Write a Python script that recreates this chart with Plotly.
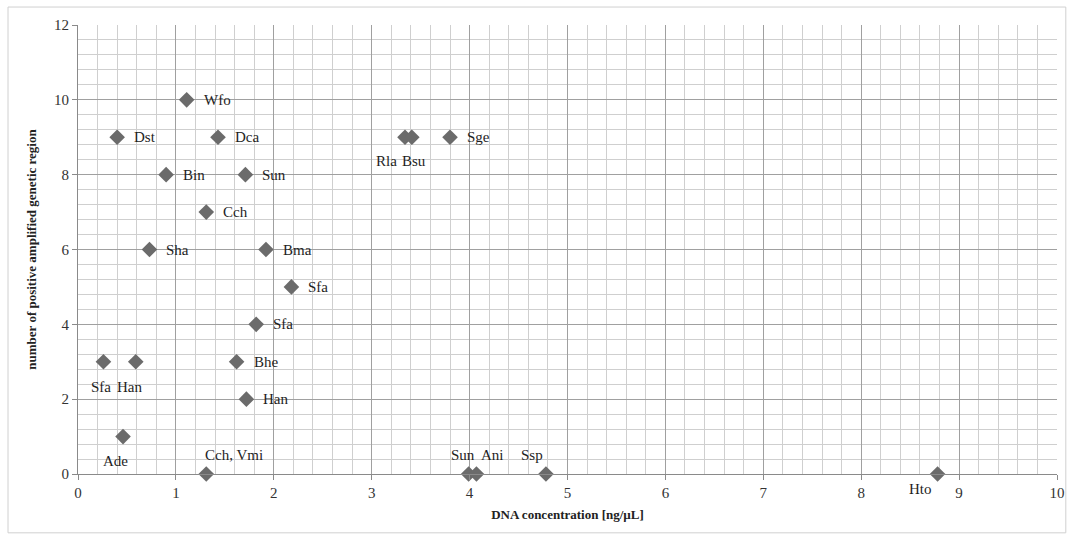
import plotly.graph_objects as go

# data
species = ["Wfo", "Dst", "Dca", "Bin", "Sun", "Cch", "Sha", "Bma", "Sfa", "Sfa",
           "Bhe", "Sfa", "Han", "Han", "Ade", "Cch, Vmi", "Rla", "Bsu", "Sge",
           "Sun", "Ani", "Ssp", "Hto"]
dna_conc = [1.11, 0.40, 1.43, 0.90, 1.71, 1.31, 0.73, 1.92, 2.18, 1.82,
            1.62, 0.26, 0.59, 1.72, 0.46, 1.31, 3.34, 3.41, 3.80,
            3.99, 4.07, 4.78, 8.78]
n_regions = [10, 9, 9, 8, 8, 7, 6, 6, 5, 4,
             3, 3, 3, 2, 1, 0, 9, 9, 9,
             0, 0, 0, 0]

# label placement (style): (xshift, yshift, xanchor)
placement = {
    "Sfa_11": (-2, -25, "center"), "Han_12": (-6, -25, "center"),
    "Ade": (-8, -24, "center"), "Cch, Vmi": (28, 19, "center"),
    "Rla": (-18, -24, "center"), "Bsu": (2, -24, "center"),
    "Sun_19": (-6, 19, "center"), "Ani": (16, 19, "center"),
    "Ssp": (-14, 19, "center"), "Hto": (-17, -15, "center"),
}

serif = "Liberation Serif, Times New Roman, serif"

fig = go.Figure()
fig.add_trace(go.Scatter(
    x=dna_conc, y=n_regions, mode="markers",
    marker=dict(symbol="diamond", size=12, color="#6b6b6b"),
    hoverinfo="skip", showlegend=False, cliponaxis=False,
))

annotations = []
for i, (name, xv, yv) in enumerate(zip(species, dna_conc, n_regions)):
    key = f"{name}_{i}" if f"{name}_{i}" in placement else name
    if key in placement:
        xs, ys, xa = placement[key]
    else:
        xs, ys, xa = 15, 0, "left"
    annotations.append(dict(
        x=xv, y=yv, xref="x", yref="y", text=name, showarrow=False,
        xshift=xs, yshift=ys, xanchor=xa, yanchor="middle",
        font=dict(family=serif, size=15, color="#1e1e1e"),
    ))

fig.update_layout(
    width=1070, height=537,
    margin=dict(l=78, r=13, t=25, b=63),
    paper_bgcolor="white", plot_bgcolor="white",
    font=dict(family=serif, size=15, color="#222"),
    annotations=annotations,
    xaxis=dict(
        range=[0, 10], dtick=1, tick0=0, automargin=False,
        showgrid=True, gridcolor="#a0a0a0", gridwidth=1,
        minor=dict(dtick=0.2, showgrid=True, gridcolor="#cfcfcf", gridwidth=1),
        showline=True, linecolor="#8a8a8a", linewidth=1,
        ticks="outside", ticklen=5, tickcolor="#8a8a8a",
        tickfont=dict(family=serif, size=15, color="#333"),
        zeroline=False,
        title=dict(text="<b>DNA concentration [ng/µL]</b>", standoff=9,
                   font=dict(family=serif, size=13)),
    ),
    yaxis=dict(
        range=[0, 12], dtick=2, tick0=0, automargin=False,
        showgrid=True, gridcolor="#a0a0a0", gridwidth=1,
        minor=dict(dtick=0.4, showgrid=True, gridcolor="#cfcfcf", gridwidth=1),
        showline=True, linecolor="#8a8a8a", linewidth=1,
        ticks="outside", ticklen=5, tickcolor="#8a8a8a",
        tickfont=dict(family=serif, size=15, color="#333"),
        zeroline=False,
        title=dict(text="<b>number of positive amplified genetic region</b>", standoff=14,
                   font=dict(family=serif, size=13)),
    ),
    shapes=[dict(type="rect", xref="paper", yref="paper",
                 x0=-0.0715, x1=1.009, y0=-0.131, y1=1.040,
                 line=dict(color="#d0d0d0", width=1), layer="below")],
)

fig.write_html(
    "out.html",
    config={"displayModeBar": False, "staticPlot": True},
    post_script="document.body.style.margin='0';document.body.style.overflow='hidden';",
)
